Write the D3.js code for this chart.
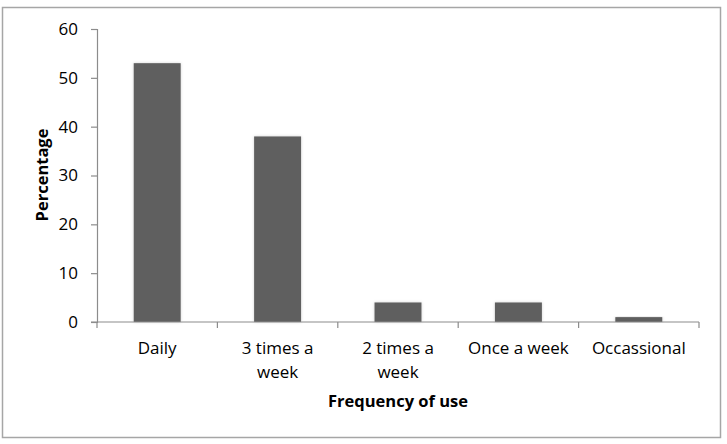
<!DOCTYPE html>
<html>
<head>
<meta charset="utf-8">
<script src="https://cdn.jsdelivr.net/npm/d3@7"></script>
<style>
  html, body { margin: 0; padding: 0; background: #fff; }
  svg { display: block; }
  text { font-family: "Open Sans", "Liberation Sans", sans-serif; fill: #000; }
</style>
</head>
<body>
<svg id="chart" width="727" height="444"></svg>
<script>
const categories = ["Daily", "3 times a week", "2 times a week", "Once a week", "Occassional"];
const categoryLines = [["Daily"], ["3 times a", "week"], ["2 times a", "week"], ["Once a week"], ["Occassional"]];
const values = [53, 38, 4, 4, 1];
const yTicks = [0, 10, 20, 30, 40, 50, 60];
const xTitle = "Frequency of use";
const yTitle = "Percentage";

const svg = d3.select("#chart");

// outer border
svg.append("rect")
  .attr("x", 2.5).attr("y", 7.5)
  .attr("width", 718).attr("height", 430)
  .attr("fill", "#fff")
  .attr("stroke", "#a6a6a6")
  .attr("stroke-width", 1.5);

const defs = svg.append("defs");
const f = defs.append("filter").attr("id", "shadow")
  .attr("x", "-20%").attr("y", "-20%").attr("width", "140%").attr("height", "140%");
f.append("feDropShadow")
  .attr("dx", 0).attr("dy", 0).attr("stdDeviation", 1.6)
  .attr("flood-color", "#000").attr("flood-opacity", 0.18);

const plotLeft = 97, plotRight = 699, plotTop = 29, plotBottom = 322;

const x = d3.scaleBand().domain(categories).range([plotLeft, plotRight]).paddingInner(0.61).paddingOuter(0.305);
const y = d3.scaleLinear().domain([0, 60]).range([plotBottom, plotTop]);

// bars
svg.append("g").selectAll("rect")
  .data(values)
  .join("rect")
  .attr("x", (d, i) => x(categories[i]))
  .attr("y", d => y(d))
  .attr("width", x.bandwidth())
  .attr("height", d => y(0) - y(d))
  .attr("fill", "#5f5f5f")
  .attr("filter", "url(#shadow)");

// y axis
const yAxis = svg.append("g")
  .attr("transform", `translate(${plotLeft},0)`)
  .call(d3.axisLeft(y).tickValues(yTicks).tickSize(6).tickPadding(13).tickFormat(d3.format("d")));
yAxis.select(".domain").attr("stroke", "#8c8c8c").attr("stroke-width", 1.2);
yAxis.selectAll(".tick line").attr("stroke", "#8c8c8c").attr("stroke-width", 1.2);
yAxis.selectAll(".tick text").attr("font-size", "17px").attr("fill", "#000")
  .style("font-family", "'Open Sans', sans-serif");

// x axis line and tick marks at category boundaries
const xAxisG = svg.append("g");
xAxisG.append("line")
  .attr("x1", plotLeft - 6).attr("x2", plotRight)
  .attr("y1", plotBottom).attr("y2", plotBottom)
  .attr("stroke", "#8c8c8c").attr("stroke-width", 1.2);
const boundaries = d3.range(categories.length + 1).map(i => plotLeft + i * (plotRight - plotLeft) / categories.length);
xAxisG.selectAll("line.tk")
  .data(boundaries)
  .join("line")
  .attr("class", "tk")
  .attr("x1", d => d).attr("x2", d => d)
  .attr("y1", plotBottom).attr("y2", plotBottom + 6)
  .attr("stroke", "#8c8c8c").attr("stroke-width", 1.2);

// category labels
const labels = xAxisG.selectAll("text.cat")
  .data(categoryLines)
  .join("text")
  .attr("class", "cat")
  .attr("text-anchor", "middle")
  .attr("font-size", "17px")
  .attr("x", (d, i) => x(categories[i]) + x.bandwidth() / 2)
  .attr("y", 354);
labels.selectAll("tspan")
  .data(d => d)
  .join("tspan")
  .attr("x", function () { return d3.select(this.parentNode).attr("x"); })
  .attr("dy", (d, i) => i === 0 ? 0 : 24)
  .text(d => d);

// axis titles
svg.append("text")
  .attr("x", (plotLeft + plotRight) / 2)
  .attr("y", 407)
  .attr("text-anchor", "middle")
  .attr("font-size", "16.5px")
  .attr("font-weight", "bold")
  .text(xTitle);

svg.append("text")
  .attr("transform", `translate(48,175) rotate(-90)`)
  .attr("text-anchor", "middle")
  .attr("font-size", "16.5px")
  .attr("font-weight", "bold")
  .text(yTitle);
</script>
</body>
</html>
